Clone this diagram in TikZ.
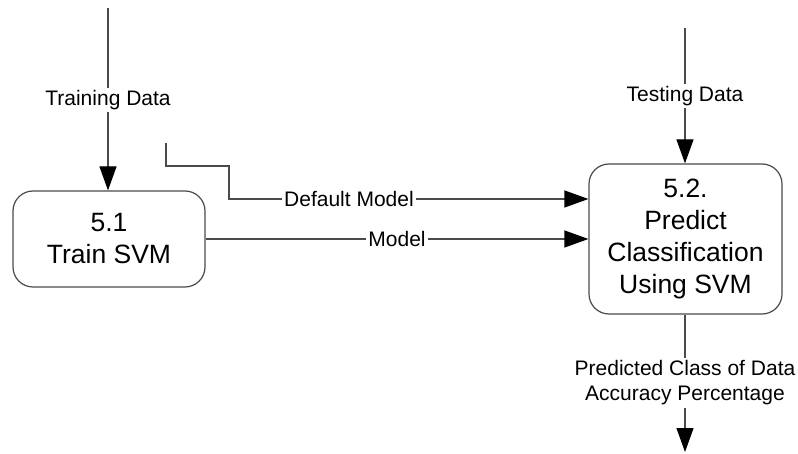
\documentclass[tikz,border=0pt]{standalone}
\usepackage{fontspec}
\setmainfont{Liberation Sans}
\usetikzlibrary{arrows.meta}
\definecolor{linegray}{HTML}{4A4A4A}
\tikzset{
  proc/.style={draw=linegray, line width=1.2pt, rounded corners=20pt, align=center,
    font=\fontsize{26.5}{32}\selectfont, inner sep=0pt},
  flow/.style={draw=linegray, line width=1.2pt, -{Triangle[length=24pt,width=17pt,color=black]}},
  lab/.style={fill=white, inner sep=2pt, align=center, font=\fontsize{21}{25}\selectfont}
}
\begin{document}
\begin{tikzpicture}[x=1pt,y=-1pt]
\useasboundingbox (0,0) rectangle (798,454);
% process boxes
\node[proc, minimum width=192pt, minimum height=96pt] (p1) at (109,239) {5.1\\Train SVM};
\node[proc, minimum width=193pt, minimum height=150pt] (p2) at (685.5,239) {5.2.\\Predict\\Classification\\Using SVM};
% free ends
\coordinate (tdtop) at (108,8);
\coordinate (tetop) at (685,28);
\coordinate (dmstart) at (166,143);
\coordinate (outend) at (685,452);
% training data
\draw[flow] (tdtop) -- (tdtop |- p1.north);
\node[lab] (tdl) at (108,100) {Training Data};
% testing data
\draw[flow] (tetop) -- (tetop |- p2.north);
\node[lab] (tel) at (685,96) {Testing Data};
% default model
\draw[flow] (dmstart) -- (166,166) -- (229,166) -- (229,199) -- (p2.west |- 0,199);
\node[lab] (dml) at (349,199) {Default Model};
% model
\draw[flow] (p1.east |- 0,239) -- (p2.west |- 0,239);
\node[lab] (ml) at (397,239) {Model};
% output
\draw[flow] (p2.south -| outend) -- (outend);
\node[lab, inner sep=3pt] (outl) at (685,383) {Predicted Class of Data\\Accuracy Percentage};
\end{tikzpicture}
\end{document}
